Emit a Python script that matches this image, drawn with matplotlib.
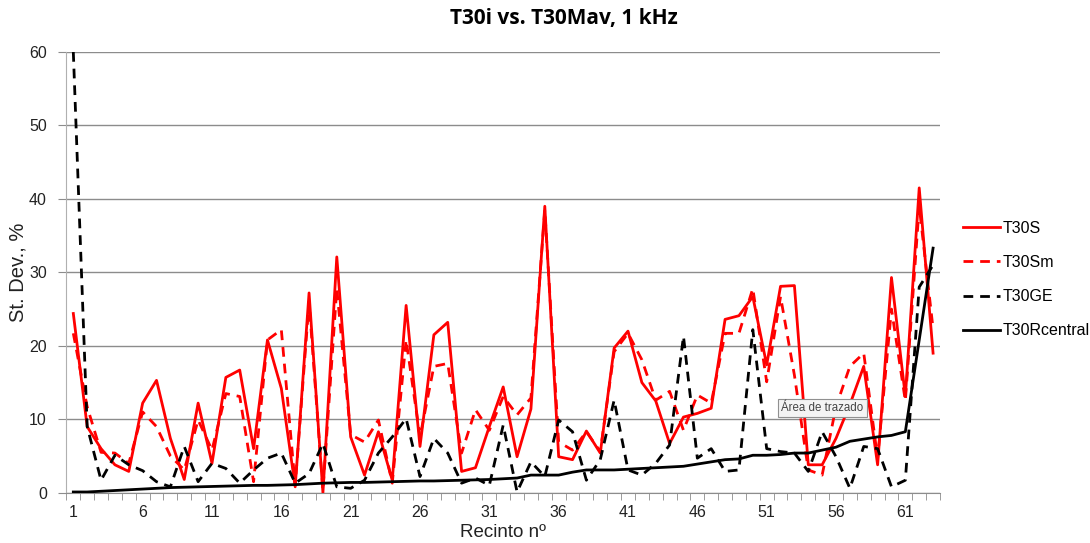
import numpy as np
import matplotlib
matplotlib.use("Agg")
import matplotlib.pyplot as plt

plt.rcParams['font.family'] = ['Liberation Sans', 'DejaVu Sans']

recinto = list(range(1, 64))

t30s = [24.4, 9.0, 6.0, 3.8, 2.9, 12.2, 15.3, 7.4, 1.8, 12.2,
        4.0, 15.7, 16.7, 6.0, 20.8, 14.2, 0.8, 27.2, 0.0, 32.1,
        7.6, 2.4, 8.3, 1.7, 25.5, 6.3, 21.5, 23.2, 2.9, 3.4,
        9.0, 14.4, 4.9, 11.4, 39.0, 4.9, 4.5, 8.4, 5.4, 19.7,
        22.0, 15.0, 12.5, 6.7, 10.3, 10.8, 11.5, 23.6, 24.1, 26.7,
        17.4, 28.1, 28.2, 3.8, 3.8, 7.4, 12.0, 17.2, 3.8, 29.3,
        13.1, 41.5, 19.0]

t30sm = [21.7, 11.7, 5.5, 5.4, 4.0, 11.0, 9.0, 5.0, 3.1, 9.9,
         5.8, 13.5, 13.1, 1.5, 20.8, 22.2, 1.0, 26.0, 0.3, 27.8,
         7.9, 6.9, 9.9, 1.3, 20.8, 7.6, 17.2, 17.6, 5.4, 11.3,
         8.5, 13.1, 10.6, 12.9, 38.5, 6.9, 5.8, 8.3, 5.6, 19.2,
         21.7, 18.1, 12.6, 13.8, 8.5, 13.3, 12.2, 21.7, 21.7, 27.8,
         15.1, 26.7, 16.0, 3.1, 2.4, 11.7, 17.2, 19.0, 4.7, 25.0,
         12.5, 39.0, 22.3]

t30ge = [60.0, 9.0, 1.7, 5.1, 3.8, 3.0, 1.5, 0.8, 6.3, 1.5,
         4.0, 3.3, 1.3, 3.1, 4.7, 5.4, 1.3, 2.6, 6.7, 0.8,
         0.6, 1.7, 5.4, 7.6, 10.1, 2.2, 7.4, 5.4, 1.3, 2.0,
         1.0, 9.2, 0.1, 4.2, 2.2, 9.9, 8.3, 1.7, 4.5, 12.6,
         3.1, 2.4, 4.0, 6.5, 21.3, 4.7, 6.0, 2.9, 3.1, 22.2,
         6.0, 5.6, 5.4, 2.9, 8.3, 4.9, 0.6, 6.3, 6.0, 0.8,
         1.7, 28.0, 31.0]

t30rcentral = [0.1, 0.1, 0.2, 0.3, 0.4, 0.5, 0.6, 0.7, 0.75, 0.8,
               0.85, 0.9, 0.95, 1.0, 1.0, 1.05, 1.1, 1.2, 1.3, 1.35,
               1.4, 1.4, 1.45, 1.5, 1.55, 1.6, 1.6, 1.65, 1.7, 1.75,
               1.8, 1.9, 2.0, 2.4, 2.4, 2.4, 2.8, 3.1, 3.1, 3.1,
               3.2, 3.3, 3.4, 3.5, 3.6, 3.9, 4.2, 4.5, 4.6, 5.1,
               5.1, 5.2, 5.4, 5.4, 5.8, 6.2, 7.0, 7.3, 7.6, 7.8,
               8.3, 20.8, 33.3]

xtick_labels = ["1", "6", "11", "16", "21", "26", "31", "36", "41", "46", "51", "56", "61"]

fig = plt.figure(figsize=(10.9, 5.43), dpi=100)
ax = fig.add_axes([0.0609, 0.0926, 0.8015, 0.8116])

lw = 2.0
ax.plot(recinto, t30s, color="#ff0000", lw=lw, label="T30S", zorder=3)
ax.plot(recinto, t30sm, color="#ff0000", lw=lw, dashes=(3.5, 2.5), label="T30Sm", zorder=3)
ax.plot(recinto, t30ge, color="black", lw=lw, dashes=(3.5, 2.5), label="T30GE", zorder=3)
ax.plot(recinto, t30rcentral, color="black", lw=lw, label="T30Rcentral", zorder=3)

ax.set_xlim(0.5, 63.5)
ax.set_ylim(0, 60)
ax.set_yticks(np.arange(0, 61, 10))
ax.yaxis.grid(True, color="#8c8c8c", lw=1)
ax.set_axisbelow(True)

ax.set_xticks([int(t) for t in xtick_labels])
ax.set_xticklabels(xtick_labels)
ax.set_xticks(np.arange(0.5, 64, 1), minor=True)
ax.tick_params(axis="x", which="major", length=0, pad=9, labelsize=11.5, labelcolor="#222222")
ax.tick_params(axis="x", which="minor", length=5, color="#8c8c8c", direction="out")
ax.tick_params(axis="y", length=6, color="#8c8c8c", labelsize=11.5, labelcolor="#222222", pad=8)

for side in ["top", "right"]:
    ax.spines[side].set_visible(False)
ax.spines["left"].set_color("#b0b0b0")
ax.spines["bottom"].set_color("#8c8c8c")

ax.set_xlabel("Recinto nº", fontsize=13.5, color="#222222", labelpad=3)
ax.set_ylabel("St. Dev., %", fontsize=14.5, color="#222222", labelpad=1)
fig.suptitle("T30i vs. T30Mav, 1 kHz", fontsize=15, fontweight="bold", x=0.517, y=0.985,
             family=["Open Sans", "DejaVu Sans"])

leg = ax.legend(loc="center left", bbox_to_anchor=(0.876, 0.485), bbox_transform=fig.transFigure,
                frameon=False, handlelength=2.3, handletextpad=0.2,
                labelspacing=1.2, borderpad=0, prop={"family": ["Liberation Sans"], "size": 11.5})

ax.text(781, 543 - 408, "Área de trazado", transform=None, fontsize=8.3, color="#444444",
        va="center", ha="left",
        bbox=dict(boxstyle="square,pad=0.3", fc="#f4f4f4", ec="#909090", lw=0.8))

fig.savefig("out.png", dpi=100)
